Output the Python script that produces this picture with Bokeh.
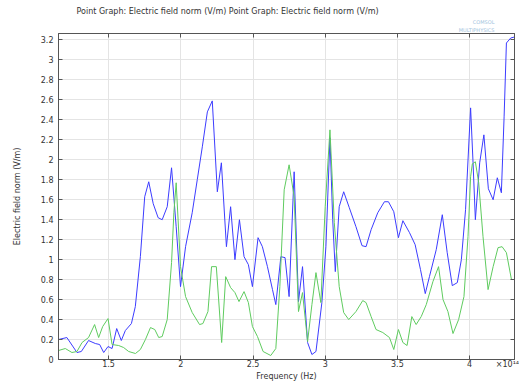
from bokeh.plotting import figure
from bokeh.models import (Range1d, FixedTicker, LinearAxis, CustomJSTickFormatter,
                          Title)
from bokeh.embed import file_html
from bokeh.resources import INLINE

# frequency in units of 1e14 Hz
blue_f = [1.153, 1.211, 1.281, 1.311, 1.361, 1.408, 1.438, 1.466, 1.496, 1.524,
          1.556, 1.588, 1.616, 1.658, 1.685, 1.720, 1.750, 1.778, 1.809, 1.843,
          1.871, 1.906, 1.936, 1.968, 1.998, 2.033, 2.079, 2.114, 2.149, 2.184,
          2.218, 2.253, 2.281, 2.316, 2.345, 2.375, 2.406, 2.438, 2.468, 2.496,
          2.535, 2.565, 2.600, 2.635, 2.658, 2.693, 2.722, 2.750, 2.785, 2.815,
          2.843, 2.878, 2.908, 2.936, 2.977, 3.005, 3.033, 3.052, 3.070, 3.097,
          3.128, 3.167, 3.213, 3.255, 3.283, 3.318, 3.364, 3.410, 3.438, 3.475,
          3.507, 3.538, 3.584, 3.623, 3.660, 3.693, 3.722, 3.769, 3.811, 3.845,
          3.880, 3.915, 3.943, 3.972, 4.007, 4.024, 4.040, 4.070, 4.099, 4.130,
          4.163, 4.192, 4.220, 4.239, 4.255, 4.285, 4.311]
blue_v = [0.20, 0.22, 0.07, 0.08, 0.19, 0.16, 0.15, 0.07, 0.13, 0.11,
          0.31, 0.19, 0.29, 0.36, 0.53, 1.03, 1.63, 1.78, 1.56, 1.42,
          1.40, 1.53, 1.92, 1.33, 0.73, 1.13, 1.47, 1.80, 2.13, 2.48,
          2.59, 1.68, 1.97, 1.13, 1.53, 1.00, 1.40, 1.03, 0.95, 0.73,
          1.22, 1.13, 0.93, 0.70, 0.55, 1.03, 1.02, 0.63, 1.88, 0.58,
          0.93, 0.17, 0.05, 0.08, 0.57, 1.13, 2.22, 1.40, 0.88, 1.53,
          1.68, 1.52, 1.33, 1.14, 1.13, 1.30, 1.47, 1.58, 1.58, 1.48,
          1.22, 1.39, 1.27, 1.15, 0.90, 0.66, 0.83, 1.10, 1.45, 1.07,
          0.74, 0.77, 1.00, 1.50, 2.52, 1.97, 1.40, 1.97, 2.25, 1.71,
          1.60, 1.82, 1.67, 2.43, 3.17, 3.22, 3.23]

green_f = [1.153, 1.200, 1.246, 1.281, 1.316, 1.361, 1.403, 1.431, 1.459, 1.496,
           1.524, 1.570, 1.604, 1.639, 1.686, 1.720, 1.755, 1.790, 1.820, 1.847,
           1.871, 1.906, 1.936, 1.952, 1.968, 1.998, 2.033, 2.079, 2.130, 2.153,
           2.188, 2.213, 2.246, 2.283, 2.311, 2.345, 2.375, 2.403, 2.438, 2.468,
           2.496, 2.531, 2.570, 2.623, 2.658, 2.686, 2.716, 2.750, 2.785, 2.815,
           2.843, 2.878, 2.908, 2.936, 2.970, 3.000, 3.033, 3.063, 3.097, 3.128,
           3.163, 3.213, 3.260, 3.283, 3.318, 3.352, 3.399, 3.445, 3.475, 3.507,
           3.538, 3.567, 3.600, 3.630, 3.665, 3.700, 3.746, 3.785, 3.816, 3.850,
           3.885, 3.924, 3.961, 3.989, 4.007, 4.019, 4.040, 4.063, 4.093, 4.128,
           4.163, 4.197, 4.225, 4.255, 4.290]
green_v = [0.09, 0.11, 0.07, 0.08, 0.17, 0.22, 0.35, 0.22, 0.33, 0.41,
           0.15, 0.14, 0.12, 0.08, 0.06, 0.10, 0.20, 0.32, 0.30, 0.22,
           0.23, 0.40, 0.97, 1.47, 1.77, 0.93, 0.63, 0.47, 0.35, 0.36,
           0.48, 0.93, 0.93, 0.17, 0.83, 0.72, 0.67, 0.58, 0.68, 0.57,
           0.33, 0.23, 0.08, 0.04, 0.11, 0.73, 1.70, 1.95, 1.63, 0.48,
           0.67, 0.18, 0.55, 0.87, 0.57, 1.53, 2.30, 1.37, 0.73, 0.47,
           0.40, 0.48, 0.59, 0.57, 0.43, 0.30, 0.27, 0.22, 0.10, 0.30,
           0.17, 0.14, 0.43, 0.35, 0.43, 0.55, 0.78, 0.93, 0.60, 0.48,
           0.26, 0.40, 0.63, 1.23, 1.83, 1.96, 1.98, 1.77, 1.23, 0.70,
           0.93, 1.12, 1.13, 1.07, 0.80]

x_ticks = [1.5, 2.0, 2.5, 3.0, 3.5, 4.0]
# tick label positions (the last one carries the axis multiplier)
x_label_pos = [1.5, 2.0, 2.5, 3.0, 3.5, 4.0, 4.262]
x_label_txt = ["1.5", "2", "2.5", "3", "3.5", "4", "×10¹⁴"]
y_ticks = [0, 0.2, 0.4, 0.6, 0.8, 1.0, 1.2, 1.4, 1.6, 1.8, 2.0, 2.2, 2.4,
           2.6, 2.8, 3.0, 3.2]

title_text = "Point Graph: Electric field norm (V/m)  Point Graph: Electric field norm (V/m)"
FONT = "DejaVu Sans"
TXT = "#333333"
EDGE = "#555555"

p = figure(width=519, height=383, output_backend="svg", toolbar_location=None,
           x_range=Range1d(1.153, 4.311), y_range=Range1d(0, 3.265),
           min_border_left=58, min_border_right=5, min_border_top=33,
           min_border_bottom=23, background_fill_color="white",
           border_fill_color="white")

p.line(blue_f, blue_v, line_color="#3c3cff", line_width=1)
p.line(green_f, green_v, line_color="#5fcb5f", line_width=1)

fmt = CustomJSTickFormatter(code="return Number(tick.toFixed(1)).toString();")
blank = CustomJSTickFormatter(code="return '';")
xfmt = CustomJSTickFormatter(args=dict(pos=x_label_pos, txt=x_label_txt),
                             code="const i = pos.indexOf(tick); return i >= 0 ? txt[i] : '';")


def tick_only(ax, ticks):
    ax.ticker = FixedTicker(ticks=ticks)
    ax.formatter = blank
    ax.major_tick_in = 4
    ax.major_tick_out = 0
    ax.minor_tick_line_color = None
    ax.axis_line_color = EDGE
    ax.major_tick_line_color = EDGE
    ax.major_label_standoff = 0
    ax.major_label_text_font_size = "0px"


# bottom: tick marks on the frame edge, labels on a second axis beneath
xb = p.xaxis[0]
tick_only(xb, x_ticks)

xl = LinearAxis(ticker=FixedTicker(ticks=x_label_pos), formatter=xfmt,
                axis_line_color=None, major_tick_line_color=None,
                minor_tick_line_color=None, major_tick_in=0, major_tick_out=0,
                major_label_standoff=0, major_label_text_font=FONT,
                major_label_text_font_size="8px", major_label_text_color=TXT,
                axis_label="Frequency (Hz)", axis_label_standoff=0,
                axis_label_text_font=FONT, axis_label_text_font_size="8px",
                axis_label_text_font_style="normal", axis_label_text_color=TXT)
p.add_layout(xl, "below")

yl = p.yaxis[0]
yl.ticker = FixedTicker(ticks=y_ticks)
yl.formatter = fmt
yl.major_tick_in = 4
yl.major_tick_out = 0
yl.minor_tick_line_color = None
yl.axis_line_color = EDGE
yl.major_tick_line_color = EDGE
yl.major_label_text_font = FONT
yl.major_label_text_font_size = "8px"
yl.major_label_text_color = TXT
yl.major_label_standoff = 5
yl.axis_label = "Electric field norm (V/m)"
yl.axis_label_standoff = 16
yl.axis_label_text_font = FONT
yl.axis_label_text_font_size = "8px"
yl.axis_label_text_font_style = "normal"
yl.axis_label_text_color = TXT

right = LinearAxis()
tick_only(right, y_ticks)
top = LinearAxis()
tick_only(top, x_ticks)
p.add_layout(right, "right")
p.add_layout(top, "above")

p.xgrid.ticker = FixedTicker(ticks=x_ticks)
p.ygrid.ticker = FixedTicker(ticks=y_ticks)
p.grid.grid_line_color = "#e4e4e4"
p.grid.grid_line_width = 1
p.outline_line_color = EDGE

# header texts, stacked outward from the frame
p.add_layout(Title(text="MULTIPHYSICS", align="right", offset=20, standoff=1,
                   text_font=FONT, text_font_size="5px", text_font_style="normal",
                   text_color="#9fc3de"), "above")
p.add_layout(Title(text="COMSOL", align="right", offset=20, standoff=0,
                   text_font=FONT, text_font_size="5px", text_font_style="normal",
                   text_color="#9fc3de"), "above")
p.add_layout(Title(text=title_text, align="left", offset=18, standoff=1,
                   text_font=FONT, text_font_size="8px", text_font_style="normal",
                   text_color=TXT), "above")

open("out.html", "w").write(file_html(p, INLINE))
